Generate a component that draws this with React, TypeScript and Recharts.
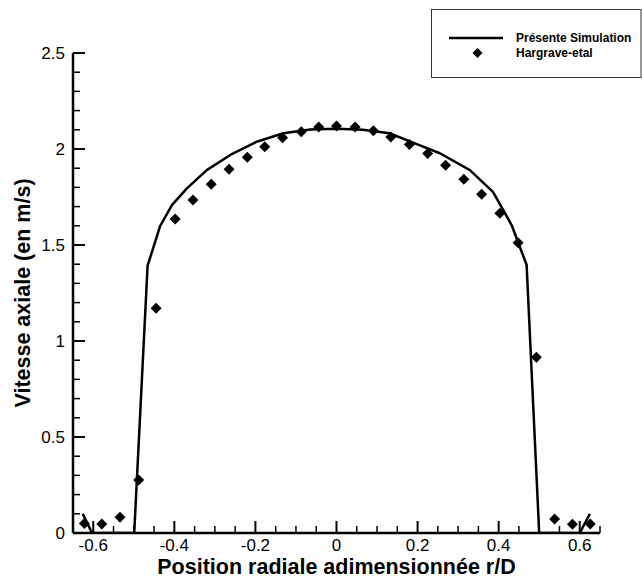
import React from 'react';
import { ScatterChart, Scatter, XAxis, YAxis, Legend, Label } from 'recharts';

// Présente Simulation (line)
const simX = [-0.626, -0.603, -0.499, -0.466, -0.435, -0.406, -0.369, -0.32, -0.262, -0.197, -0.131, -0.065, 0, 0.065, 0.131, 0.181, 0.255, 0.329, 0.386, 0.432, 0.469, 0.5, 0.6, 0.625];
const simY = [0.1, 0, 0, 1.392, 1.599, 1.708, 1.795, 1.89, 1.969, 2.038, 2.082, 2.102, 2.106, 2.1, 2.082, 2.04, 1.978, 1.89, 1.777, 1.604, 1.396, 0, 0, 0.1];

// Hargrave-etal (diamonds)
const expX = [-0.622, -0.579, -0.534, -0.488, -0.445, -0.398, -0.354, -0.309, -0.265, -0.22, -0.177, -0.133, -0.087, -0.044, 0, 0.046, 0.091, 0.134, 0.18, 0.225, 0.269, 0.314, 0.358, 0.403, 0.448, 0.493, 0.538, 0.582, 0.626];
const expY = [0.05, 0.047, 0.082, 0.276, 1.17, 1.635, 1.734, 1.816, 1.894, 1.957, 2.012, 2.058, 2.09, 2.115, 2.12, 2.115, 2.095, 2.062, 2.024, 1.976, 1.915, 1.842, 1.764, 1.665, 1.512, 0.915, 0.073, 0.045, 0.047];

const xTicks = [-0.65, -0.6, -0.55, -0.5, -0.45, -0.4, -0.35, -0.3, -0.25, -0.2, -0.15, -0.1, -0.05, 0, 0.05, 0.1, 0.15, 0.2, 0.25, 0.3, 0.35, 0.4, 0.45, 0.5, 0.55, 0.6, 0.65];
const yTicks = [0, 0.1, 0.2, 0.3, 0.4, 0.5, 0.6, 0.7, 0.8, 0.9, 1, 1.1, 1.2, 1.3, 1.4, 1.5, 1.6, 1.7, 1.8, 1.9, 2, 2.1, 2.2, 2.3, 2.4, 2.5];

const seriesNames = ['Présente Simulation', 'Hargrave-etal'];
const xTitle = 'Position radiale adimensionnée r/D';
const yTitle = 'Vitesse axiale (en m/s)';

const simData = simX.map((x, i) => ({ x, y: simY[i] }));
const expData = expX.map((x, i) => ({ x, y: expY[i] }));

const FONT = '"Liberation Sans", Arial, Helvetica, sans-serif';

const isMult = (v: number, step: number) => Math.abs(v / step - Math.round(v / step)) < 1e-6;
const fmt = (v: number) => {
  const r = Math.round(v * 10) / 10;
  return r === 0 ? '0' : String(r);
};

const XTick = (props: any) => {
  const { x, y, payload } = props;
  const v = payload.value;
  const major = isMult(v, 0.2);
  return (
    <g>
      <line x1={x} x2={x} y1={y} y2={y - (major ? 12 : 7)} stroke="#000" strokeWidth={major ? 2 : 1.5} />
      {major && (
        <text x={x} y={y + 17.5} textAnchor="middle" fontSize={17} fontFamily={FONT} fill="#000">
          {fmt(v)}
        </text>
      )}
    </g>
  );
};

const YTick = (props: any) => {
  const { x, y, payload } = props;
  const v = payload.value;
  const major = isMult(v, 0.5);
  return (
    <g>
      <line x1={x} x2={x + (major ? 12 : 7)} y1={y} y2={y} stroke="#000" strokeWidth={major ? 2 : 1.5} />
      {major && (
        <text x={x - 8} y={y} dy="0.36em" textAnchor="end" fontSize={17} fontFamily={FONT} fill="#000">
          {fmt(v)}
        </text>
      )}
    </g>
  );
};

const XTitle = (props: any) => {
  const vb = props.viewBox || { x: 73, y: 533, width: 527, height: 0 };
  const cx = vb.x + vb.width / 2;
  return (
    <text x={cx} y={vb.y + 41} textAnchor="middle" fontSize={21.5} fontWeight="bold" fontFamily={FONT} fill="#000">
      {xTitle}
    </text>
  );
};

const YTitle = (props: any) => {
  const vb = props.viewBox || { x: 72, y: 53, width: 1, height: 480 };
  const cx = vb.x + (vb.width || 0) - 51;
  const cy = vb.y + vb.height / 2;
  return (
    <text x={cx} y={cy} dy="0.36em" transform={`rotate(-90 ${cx} ${cy})`} textAnchor="middle" fontSize={21.5} fontWeight="bold" fontFamily={FONT} fill="#000">
      {yTitle}
    </text>
  );
};

const Diamond = (props: any) => {
  const { cx, cy } = props;
  const r = 5.5;
  if (cx == null || cy == null) return <g />;
  return <path d={`M${cx},${cy - r}L${cx + r},${cy}L${cx},${cy + r}L${cx - r},${cy}Z`} fill="#000" />;
};

const NoShape = () => <g />;

const LegendBox = (props: any) => {
  const payload = [...(props.payload || [])].sort(
    (a: any, b: any) => seriesNames.indexOf(a.value) - seriesNames.indexOf(b.value)
  );
  return (
    <svg width={211} height={70} style={{ display: 'block' }}>
      <rect x={0.5} y={0.5} width={209.5} height={68} fill="#fff" stroke="#333" strokeWidth={1} />
      {payload.map((p: any, i: number) => {
        const cy = 29 + i * 15;
        return (
          <g key={i}>
            {p.type === 'line' ? (
              <line x1={18} x2={72} y1={cy} y2={cy} stroke="#000" strokeWidth={2.5} />
            ) : (
              <path d={`M46.5,${cy - 5}L51.5,${cy}L46.5,${cy + 5}L41.5,${cy}Z`} fill="#000" />
            )}
            <text x={85} y={cy} dy="0.36em" fontSize={12} fontWeight="bold" fontFamily={FONT} fill="#000">
              {p.value}
            </text>
          </g>
        );
      })}
    </svg>
  );
};

export default function App() {
  return (
    <div style={{ position: 'absolute', left: 0, top: 0, width: 642, height: 578, background: '#fff' }}>
      <ScatterChart width={642} height={578} margin={{ top: 53, right: 42, bottom: 44, left: 72 }}>
        <XAxis
          type="number"
          dataKey="x"
          domain={[-0.65, 0.65]}
          ticks={xTicks}
          interval={0}
          allowDataOverflow
          height={1}
          tickSize={0}
          tickMargin={0}
          tickLine={false}
          tick={<XTick />}
          axisLine={{ stroke: '#000', strokeWidth: 2.5 }}
        >
          <Label content={<XTitle />} />
        </XAxis>
        <YAxis
          type="number"
          dataKey="y"
          domain={[0, 2.5]}
          ticks={yTicks}
          interval={0}
          allowDataOverflow
          width={1}
          tickSize={0}
          tickMargin={0}
          tickLine={false}
          tick={<YTick />}
          axisLine={{ stroke: '#000', strokeWidth: 2.5 }}
        >
          <Label content={<YTitle />} />
        </YAxis>
        <Legend
          verticalAlign="middle"
          align="center"
          content={<LegendBox />}
          wrapperStyle={{ position: 'absolute', left: 431, top: 9, width: 211, height: 70 }}
        />
        <Scatter
          name={seriesNames[0]}
          data={simData}
          fill="#000"
          line={{ stroke: '#000', strokeWidth: 2.5, strokeLinejoin: 'round' }}
          lineType="joint"
          shape={<NoShape />}
          legendType="line"
          isAnimationActive={false}
        />
        <Scatter
          name={seriesNames[1]}
          data={expData}
          fill="#000"
          shape={<Diamond />}
          legendType="diamond"
          isAnimationActive={false}
        />
      </ScatterChart>
    </div>
  );
}
